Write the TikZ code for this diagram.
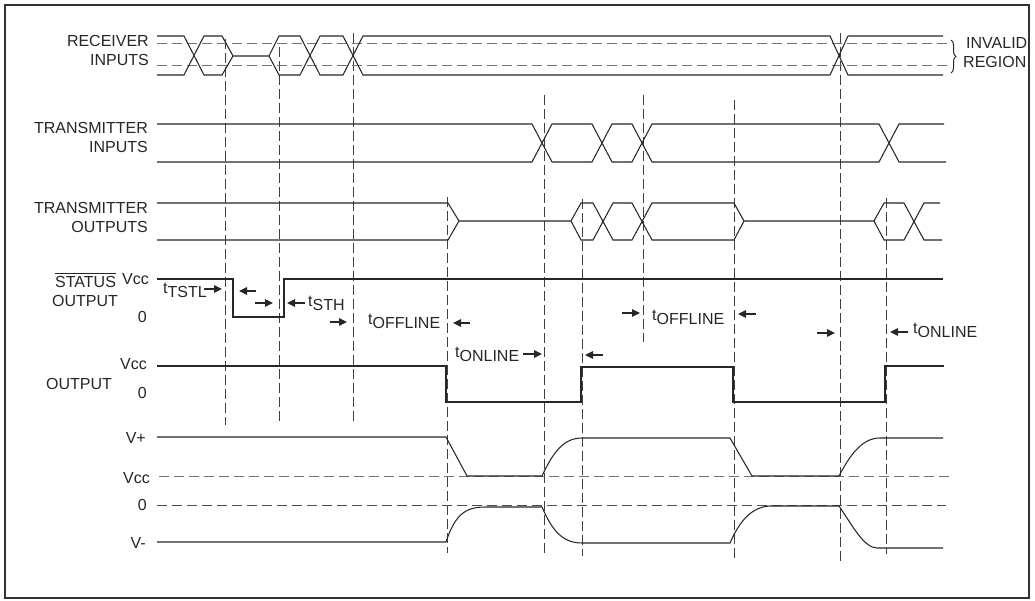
\documentclass[tikz,border=0pt]{standalone}
\usepackage{fontspec}
\setmainfont{Liberation Sans}
\usetikzlibrary{arrows.meta,decorations.pathreplacing}
\newcommand{\tlab}[1]{t\raisebox{-4pt}{#1}}
\begin{document}
\begin{tikzpicture}[x=1pt,y=-1pt,
  sig/.style={line width=1.05pt, draw=black!85, line join=miter},
  vdash/.style={line width=0.9pt, draw=black!75, dash pattern=on 10pt off 4pt},
  hdash/.style={line width=1pt, draw=black!55, dash pattern=on 10pt off 5pt},
  lab/.style={font=\fontsize{16}{19}\selectfont, inner sep=0pt, text=black!85},
  tarr/.style={-{Triangle[length=8pt,width=7.5pt]}, line width=1.2pt, draw=black!85},
]
\useasboundingbox (0,0) rectangle (1035,601);
\draw[line width=2.5pt, draw=black!80] (5,5) rectangle (1029,598);

% vertical dashed timing lines
\draw[vdash] (225,39) -- (225,425);
\draw[vdash] (279,47) -- (279,424);
\draw[vdash] (353,33) -- (353,422);
\draw[vdash] (447,197) -- (447,553);
\draw[vdash] (544,95) -- (544,556);
\draw[vdash] (582,199) -- (582,556);
\draw[vdash] (643,95) -- (643,342);
\draw[vdash] (734,100) -- (734,559);
\draw[vdash] (840,33) -- (840,561);
\draw[vdash] (886,198) -- (886,554);

% receiver inputs
\draw[hdash] (157,44) -- (948,44);
\draw[hdash] (157,66) -- (948,66);
\draw[sig] (157,36) -- (184,36) -- (204,75) -- (222,75) -- (233,56) -- (269,56) -- (279,36) -- (300,36) -- (320,75) -- (343,75) -- (363,36) -- (830,36) -- (848,75) -- (943,75);
\draw[sig] (157,75) -- (184,75) -- (204,36) -- (222,36) -- (233,56);
\draw[sig] (269,56) -- (279,75) -- (300,75) -- (320,36) -- (343,36) -- (363,75) -- (830,75) -- (848,36) -- (943,36);

% transmitter inputs
\draw[sig] (157,124) -- (532,124) -- (552,162) -- (592,162) -- (612,124) -- (632,124) -- (652,162) -- (879,162) -- (899,124) -- (944,124);
\draw[sig] (157,162) -- (532,162) -- (552,124) -- (592,124) -- (612,162) -- (632,162) -- (652,124) -- (879,124) -- (899,162) -- (946,162);

% transmitter outputs
\draw[sig] (157,203) -- (448,203) -- (459,221) -- (571,221) -- (581,203) -- (593,203) -- (613,240) -- (632,240) -- (652,203) -- (734,203) -- (744,221) -- (874,221) -- (884,203) -- (904,203) -- (924,240) -- (942,240);
\draw[sig] (157,240) -- (448,240) -- (459,221);
\draw[sig] (571,221) -- (581,240) -- (593,240) -- (613,203) -- (632,203) -- (652,240) -- (734,240) -- (744,221);
\draw[sig] (874,221) -- (884,240) -- (904,240) -- (924,203) -- (940,203);

% status output
\draw[sig] (157,279) -- (233,279) -- (233,317) -- (284,317) -- (284,279) -- (943,279);

% output
\draw[sig] (157,366) -- (446,366) -- (446,402) -- (581,402) -- (581,367) -- (733,367) -- (733,402) -- (885,402) -- (885,366) -- (944,366);

% bottom analog outputs
\draw[hdash] (159,476) -- (949,476);
\draw[hdash, draw=black!70] (157,505) -- (946,505);
\draw[sig] (157,437) -- (446,437) -- (467,476) -- (542,476) .. controls (552,455) and (562,438) .. (582,438) -- (730,438) -- (752,476) -- (839,476) .. controls (850,455) and (862,438) .. (880,438) -- (943,438);
\draw[sig] (157,542) -- (446,542) .. controls (455,515) and (465,507) .. (485,507) -- (542,507) .. controls (552,530) and (562,543) .. (582,543) -- (730,543) .. controls (740,520) and (752,507) .. (770,506) -- (839,506) .. controls (852,525) and (864,548) .. (877,548) -- (943,548);

% brace
\draw[line width=1pt, draw=black!85, decorate, decoration={brace, amplitude=5pt}] (951,40) -- (951,73);

% labels
\node[lab, anchor=base east] (rx1) at (149,47) {RECEIVER};
\node[lab, anchor=base east] (rx2) at (149,66) {INPUTS};
\node[lab, anchor=base east] (tx1) at (148,134) {TRANSMITTER};
\node[lab, anchor=base east] (tx2) at (148,153) {INPUTS};
\node[lab, anchor=base east] (to1) at (148,214) {TRANSMITTER};
\node[lab, anchor=base east] (to2) at (148,233) {OUTPUTS};
\node[lab, anchor=base west] (st1) at (55,288) {STATUS};
\draw[line width=1pt, draw=black!85] ([yshift=3pt]st1.north west) -- ([yshift=3pt]st1.north east);
\node[lab, anchor=base east] (stv) at (149,285) {Vcc};
\node[lab, anchor=base west] (st2) at (52,307) {OUTPUT};
\node[lab, anchor=base east] (st0) at (147,323) {0};
\node[lab, anchor=base west] (out) at (46,389) {OUTPUT};
\node[lab, anchor=base east] (ov) at (147,369) {Vcc};
\node[lab, anchor=base east] (o0) at (147,398) {0};
\node[lab, anchor=base east] (vp) at (146,443) {V+};
\node[lab, anchor=base east] (vcc) at (150,483) {Vcc};
\node[lab, anchor=base east] (z0) at (147,510) {0};
\node[lab, anchor=base east] (vm) at (146,548) {V-};
\node[lab, anchor=base west] (inv1) at (966,49) {INVALID};
\node[lab, anchor=base west] (inv2) at (963,68) {REGION};

% timing labels
\node[lab, anchor=base west] (ttstl) at (163,294) {\tlab{TSTL}};
\node[lab, anchor=base west] (tsth) at (308,307) {\tlab{STH}};
\node[lab, anchor=base west] (toff1) at (368,324) {\tlab{OFFLINE}};
\node[lab, anchor=base west] (ton1) at (455,357) {\tlab{ONLINE}};
\node[lab, anchor=base west] (toff2) at (652,320) {\tlab{OFFLINE}};
\node[lab, anchor=base west] (ton2) at (913,334) {\tlab{ONLINE}};

% timing arrows
\draw[tarr] (204,289) -- (222,289);
\draw[tarr] (256,291) -- (239,291);
\draw[tarr] (255,303) -- (273,303);
\draw[tarr] (305,303) -- (287,303);
\draw[tarr] (330,322) -- (347,322);
\draw[tarr] (470,323) -- (453,323);
\draw[tarr] (523,354) -- (542,354);
\draw[tarr] (603,355) -- (585,355);
\draw[tarr] (622,313) -- (640,313);
\draw[tarr] (756,314) -- (738,314);
\draw[tarr] (817,333) -- (835,333);
\draw[tarr] (908,332) -- (890,332);
\end{tikzpicture}
\end{document}
